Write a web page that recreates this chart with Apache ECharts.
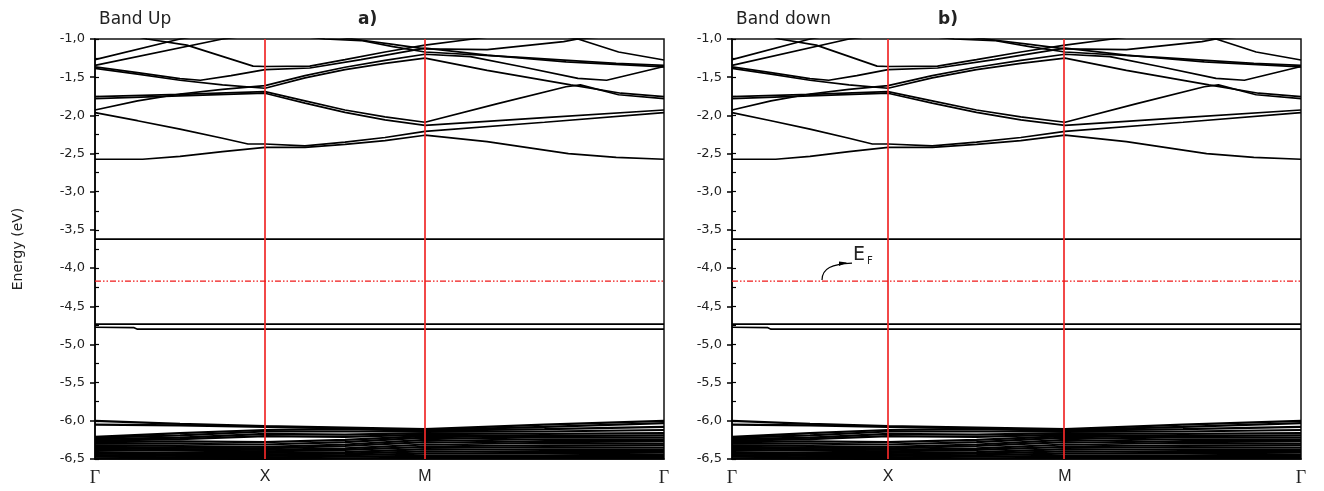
<!DOCTYPE html>
<html>
<head>
<meta charset="utf-8">
<script src="https://cdn.jsdelivr.net/npm/echarts@6/dist/echarts.min.js"></script>
<style>html,body{margin:0;padding:0;background:#fff}#c{width:1324px;height:491px}</style>
</head>
<body>
<div id="c"></div>
<script>
// ---- k-path: 0 = Γ, 1 = X, 2 = M, 3 = Γ ----
const kLabels = ['Γ', 'X', 'M', 'Γ'];
const segLenA = [1.0, 0.941, 1.406];   // relative segment lengths, panel a
const segLenB = [1.0, 1.135, 1.513];   // relative segment lengths, panel b
const panelTitles = ['Band Up', 'Band down'];
const panelTags = ['a)', 'b)'];
const yMin = -6.5, yMax = -1.0, yStep = 0.5, yMinorStep = 0.25;
const fermiLevel = -4.17;

// ---- upper bands: [u, energy (eV)] ----
const bandA  = [[0,-0.82],[0.306,-1.0],[0.54,-1.08],[0.93,-1.355],[1,-1.36],[1.28,-1.355],[1.5,-1.27],[1.75,-1.17],[2,-1.08],[2.2,-1.0],[2.5,-0.88],[3,-0.8]];
const bandB1 = [[0,-1.27],[0.5,-1.0],[1,-0.8],[2,-0.8],[2.55,-0.95],[2.64,-1.0],[2.81,-1.17],[3,-1.275]];
const bandB2 = [[0,-1.345],[0.75,-1.0],[1,-0.93],[1.3,-0.93],[1.55,-1.0],[1.8,-1.07],[2,-1.13],[2.26,-1.14],[2.58,-1.035],[2.64,-1.0],[3,-0.9]];
const bandI  = [[1,-0.9],[1.375,-1.0],[1.6,-1.02],[1.8,-1.1],[2,-1.17],[2.4,-1.24],[2.8,-1.32],[3,-1.345]];
const bandC  = [[0,-1.365],[0.25,-1.44],[0.5,-1.52],[0.62,-1.54],[0.8,-1.48],[1,-1.40],[1.28,-1.38],[1.6,-1.27],[2,-1.12],[2.26,-1.21],[2.59,-1.30],[3,-1.365]];
const bandD  = [[0,-1.385],[0.25,-1.46],[0.5,-1.54],[0.75,-1.60],[1,-1.645],[1.25,-1.51],[1.5,-1.40],[1.75,-1.32],[2,-1.25],[2.26,-1.41],[2.61,-1.60],[2.82,-1.71],[3,-1.755]];
const bandF  = [[0,-1.93],[0.25,-1.81],[0.5,-1.72],[0.75,-1.66],[1,-1.61],[1.25,-1.48],[1.5,-1.37],[1.75,-1.28],[2,-1.20],[2.19,-1.23],[2.4,-1.36],[2.64,-1.515],[2.76,-1.54],[3,-1.36]];
const bandE1 = [[0,-1.755],[0.5,-1.725],[1,-1.69],[1.25,-1.81],[1.5,-1.93],[1.75,-2.02],[2,-2.09],[2.3,-1.85],[2.59,-1.625],[2.65,-1.60],[2.81,-1.73],[3,-1.78]];
const bandE2 = [[0,-1.78],[0.5,-1.745],[1,-1.71],[1.25,-1.84],[1.5,-1.96],[1.75,-2.06],[2,-2.13],[2.5,-2.03],[3,-1.93]];
const bandG  = [[0,-1.965],[0.25,-2.07],[0.5,-2.18],[0.75,-2.30],[0.9,-2.375],[1,-2.375],[1.25,-2.40],[1.5,-2.35],[1.75,-2.29],[2,-2.21],[2.5,-2.09],[3,-1.965]];
const bandH  = [[0,-2.575],[0.28,-2.575],[0.5,-2.537],[0.75,-2.476],[1,-2.42],[1.25,-2.42],[1.5,-2.38],[1.75,-2.33],[2,-2.26],[2.26,-2.345],[2.6,-2.50],[2.8,-2.55],[3,-2.575]];

// ---- flat gap states ----
const bandFlat1 = [[0,-3.62],[3,-3.62]];
const bandFlat2 = [[0,-4.735],[3,-4.735]];
const bandFlat3 = [[0,-4.775],[0.23,-4.78],[0.25,-4.80],[3,-4.80]];

// ---- dense low bands: energies at u nodes ----
const lowNodes = [0, 0.5, 1, 1.5, 2, 2.5, 3];
const low1  = [-6.00, -6.04, -6.07, -6.09, -6.11, -6.05, -6.00];
const low2  = [-6.05, -6.06, -6.08, -6.10, -6.12, -6.08, -6.03];
const low3  = [-6.21, -6.16, -6.12, -6.11, -6.13, -6.11, -6.08];
const low4  = [-6.22, -6.19, -6.14, -6.14, -6.14, -6.14, -6.12];
const low5  = [-6.24, -6.22, -6.17, -6.18, -6.16, -6.17, -6.16];
const low6  = [-6.26, -6.24, -6.20, -6.21, -6.18, -6.20, -6.19];
const low7  = [-6.28, -6.27, -6.28, -6.25, -6.20, -6.22, -6.22];
const low8  = [-6.30, -6.30, -6.31, -6.28, -6.22, -6.25, -6.25];
const low9  = [-6.32, -6.33, -6.34, -6.31, -6.25, -6.28, -6.27];
const low10 = [-6.34, -6.35, -6.36, -6.33, -6.28, -6.30, -6.30];
const low11 = [-6.36, -6.37, -6.38, -6.36, -6.31, -6.33, -6.32];
const low12 = [-6.38, -6.39, -6.40, -6.38, -6.34, -6.35, -6.35];
const low13 = [-6.41, -6.42, -6.42, -6.41, -6.37, -6.38, -6.38];
const low14 = [-6.43, -6.44, -6.44, -6.43, -6.40, -6.41, -6.41];
const low15 = [-6.45, -6.46, -6.46, -6.45, -6.43, -6.43, -6.44];
const low16 = [-6.47, -6.48, -6.48, -6.47, -6.46, -6.46, -6.46];
const low17 = [-6.49, -6.495, -6.50, -6.49, -6.485, -6.485, -6.485];

const upperBands = [bandA, bandB1, bandB2, bandI, bandC, bandD, bandF, bandE1, bandE2, bandG, bandH, bandFlat1, bandFlat2, bandFlat3];
const lowBands = [low1, low2, low3, low4, low5, low6, low7, low8, low9, low10, low11, low12, low13, low14, low15, low16, low17];

function cum(seg) { const c = [0]; seg.forEach((s, i) => c.push(c[i] + s)); return c; }
function toDist(u, seg) {
  const i = Math.min(Math.floor(u), 2);
  const c = cum(seg);
  return c[i] + (u - i) * seg[i];
}

const chart = echarts.init(document.getElementById('c'), null, {renderer: 'canvas'});
const grids = [
  {left: 95, top: 39, width: 569, height: 420},
  {left: 732, top: 39, width: 569, height: 420}
];
const segs = [segLenA, segLenB];

const xAxes = [], yAxes = [], series = [], titles = [];
segs.forEach((seg, gi) => {
  const c = cum(seg);
  const total = c[3];
  xAxes.push({
    type: 'value', gridIndex: gi, min: 0, max: total,
    axisLine: {show: true, onZero: false, lineStyle: {color: '#000', width: 1.5}},
    axisTick: {show: false},
    splitLine: {show: false},
    axisLabel: {
      customValues: c.slice(),
      margin: 10,
      formatter: function (v) {
        let idx = 0, best = 1e9;
        c.forEach((cv, j) => { if (Math.abs(cv - v) < best) { best = Math.abs(cv - v); idx = j; } });
        const t = kLabels[idx];
        return t === 'Γ' ? '{g|' + t + '}' : '{s|' + t + '}';
      },
      rich: {
        g: {fontFamily: 'Liberation Serif', fontSize: 18, color: '#222'},
        s: {fontFamily: 'Liberation Sans', fontSize: 16, color: '#222'}
      }
    }
  });
  yAxes.push({
    type: 'value', gridIndex: gi, min: yMin, max: yMax, interval: yStep, position: 'left',
    name: gi === 0 ? 'Energy (eV)' : '',
    nameLocation: 'middle', nameGap: 70, nameRotate: 90,
    nameTextStyle: {fontFamily: 'DejaVu Sans', fontSize: 14, color: '#222'},
    axisLine: {show: true, onZero: false, lineStyle: {color: '#000', width: 1.5}},
    axisTick: {show: true, inside: false, length: 5, lineStyle: {color: '#000', width: 1.5}},
    splitLine: {show: false},
    axisLabel: {
      margin: 10, fontFamily: 'DejaVu Sans', fontSize: 13, color: '#222',
      formatter: v => v.toFixed(1).replace('.', ',')
    }
  });
  yAxes.push({
    type: 'value', gridIndex: gi, min: yMin, max: yMax, interval: yMinorStep, position: 'left',
    axisLine: {show: false},
    axisTick: {show: true, inside: true, length: 4, lineStyle: {color: '#000', width: 1.2}},
    axisLabel: {show: false},
    splitLine: {show: false}
  });

  const base = {
    type: 'line', xAxisIndex: gi, yAxisIndex: gi * 2, showSymbol: false, symbol: 'none',
    silent: true, animation: false, clip: true, z: 2
  };
  upperBands.forEach(b => {
    series.push(Object.assign({}, base, {
      data: b.map(p => [toDist(p[0], seg), p[1]]),
      lineStyle: {color: '#000', width: 1.7}
    }));
  });
  lowBands.forEach(b => {
    series.push(Object.assign({}, base, {
      data: b.map((e, j) => [toDist(lowNodes[j], seg), e]),
      lineStyle: {color: '#000', width: 2.2}
    }));
  });
  // Fermi level + high-symmetry lines
  series.push(Object.assign({}, base, {
    z: 5,
    data: [[0, fermiLevel], [total, fermiLevel]],
    lineStyle: {color: '#f01818', width: 1.3, type: [6, 2, 1.5, 2, 1.5, 2]},
    markLine: {
      silent: true, symbol: ['none', 'none'], animation: false,
      label: {show: false},
      lineStyle: {color: '#f02828', width: 1.7, type: 'solid'},
      data: [{xAxis: c[1]}, {xAxis: c[2]}]
    }
  }));

  titles.push({
    text: panelTitles[gi], left: grids[gi].left - 1, top: 6,
    textStyle: {fontFamily: 'DejaVu Sans', fontSize: 17, fontWeight: 'normal', color: '#222'}
  });
});
titles.push({text: panelTags[0], left: 353, top: 6, textStyle: {fontFamily: 'DejaVu Sans', fontSize: 17, fontWeight: 'bold', color: '#222'}});
titles.push({text: panelTags[1], left: 933, top: 6, textStyle: {fontFamily: 'DejaVu Sans', fontSize: 17, fontWeight: 'bold', color: '#222'}});

chart.setOption({
  animation: false,
  backgroundColor: '#fff',
  title: titles,
  grid: grids.map(g => Object.assign({show: true, borderColor: '#111', borderWidth: 1.5, backgroundColor: 'transparent'}, g)),
  xAxis: xAxes,
  yAxis: yAxes,
  series: series
});

// E_F annotation in panel b, anchored to the Fermi level
const anchor = chart.convertToPixel({xAxisIndex: 1, yAxisIndex: 2}, [toDist(0.577, segLenB), fermiLevel]);
const ax = anchor[0], ay = anchor[1];
chart.setOption({
  graphic: [
    {type: 'bezierCurve', silent: true, z: 10,
     shape: {x1: ax, y1: ay - 1, cpx1: ax, cpy1: ay - 13, cpx2: ax + 10, cpy2: ay - 17, x2: ax + 30, y2: ay - 18},
     style: {stroke: '#000', lineWidth: 1.2, fill: null}},
    {type: 'polygon', silent: true, z: 10,
     shape: {points: [[ax + 17, ay - 19.5], [ax + 25, ay - 18.5], [ax + 17, ay - 15]]},
     style: {fill: '#000'}},
    {type: 'text', silent: true, z: 10, left: ax + 31, top: ay - 36,
     style: {text: '{e|E}{f|F}', rich: {
       e: {fontFamily: 'DejaVu Sans', fontSize: 19, fill: '#222'},
       f: {fontFamily: 'DejaVu Sans', fontSize: 10, fill: '#222', padding: [13, 0, 0, 2]}
     }}}
  ]
});
</script>
</body>
</html>
